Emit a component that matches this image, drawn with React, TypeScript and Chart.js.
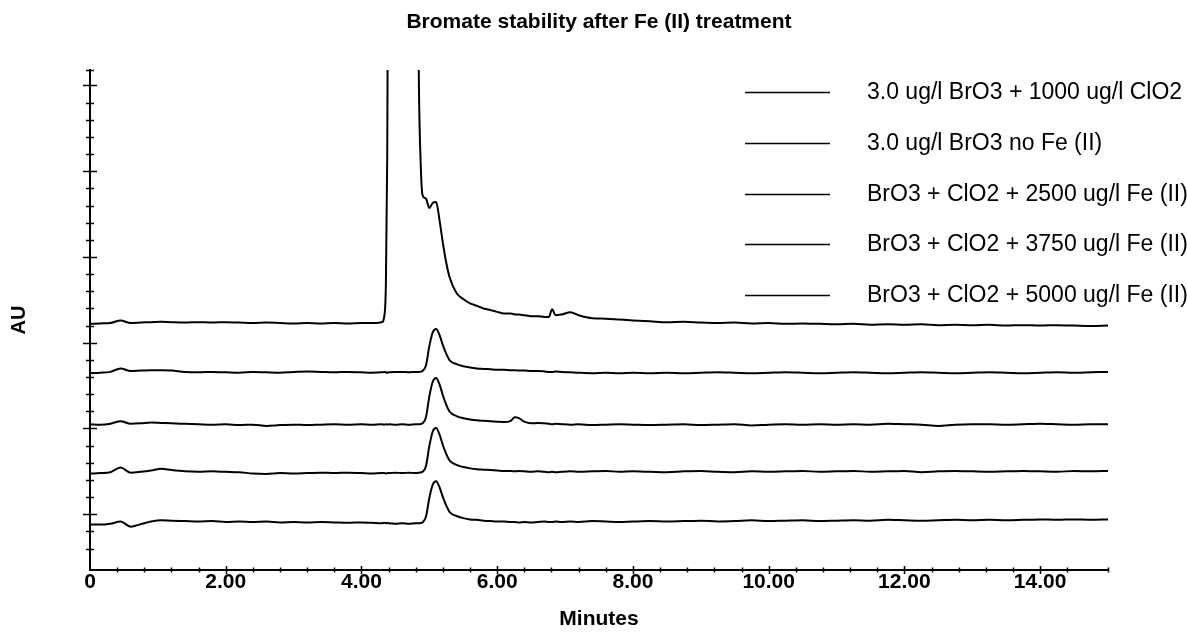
import React, { useEffect, useRef } from "react";
import { Chart, registerables } from "chart.js";

Chart.register(...registerables);

const FONT = "'Liberation Sans', Arial, Helvetica, sans-serif";

const CHART_TITLE = "Bromate stability after Fe (II) treatment";
const X_TITLE = "Minutes";
const Y_TITLE = "AU";

const X_TICK_VALUES = [0, 2, 4, 6, 8, 10, 12, 14];
const X_TICK_LABELS = ["0", "2.00", "4.00", "6.00", "8.00", "10.00", "12.00", "14.00"];

const SERIES_LABELS = [
  "3.0 ug/l BrO3 + 1000 ug/l ClO2",
  "3.0 ug/l BrO3 no Fe (II)",
  "BrO3 + ClO2 + 2500 ug/l Fe (II)",
  "BrO3 + ClO2 + 3750 ug/l Fe (II)",
  "BrO3 + ClO2 + 5000 ug/l Fe (II)",
];

// retention time (minutes)
const TIMES = [
  0, 0.15, 0.3, 0.45, 0.6, 0.75, 0.9, 1.05, 1.2, 1.4,
  1.6, 1.8, 2.0, 2.2, 2.4, 2.6, 2.8, 3.0, 3.2, 3.4,
  3.6, 3.8, 4.0, 4.15, 4.3, 4.34, 4.36, 4.38, 4.4, 4.5,
  4.6, 4.7, 4.8, 4.85, 4.88, 4.9, 4.95, 5.0, 5.05, 5.1,
  5.15, 5.2, 5.25, 5.3, 5.4, 5.5, 5.6, 5.7, 5.8, 5.9,
  6.0, 6.1, 6.2, 6.26, 6.32, 6.4, 6.5, 6.6, 6.7, 6.76,
  6.81, 6.86, 6.95, 7.08, 7.2, 7.4, 7.6, 7.8, 8.0, 8.25,
  8.5, 8.75, 9.0, 9.25, 9.5, 9.75, 10.0, 10.25, 10.5, 10.75,
  11.0, 11.25, 11.5, 11.75, 12.0, 12.25, 12.5, 12.75, 13.0, 13.25,
  13.5, 13.75, 14.0, 14.25, 14.5, 14.75, 15.0,
];

// detector response (offset traces, arbitrary AU units)
const CLO2_1000 = [
  22.2, 22.25, 22.3, 22.6, 22.3, 22.35, 22.4, 22.45, 22.4, 22.35,
  22.4, 22.35, 22.4, 22.35, 22.3, 22.35, 22.3, 22.25, 22.3, 22.25,
  22.3, 22.25, 22.3, 22.3, 22.4, 23.3, 27.0, 42.0, 80.0, 90.0,
  90.0, 90.0, 80.0, 47.9, 39.3, 37.2, 36.8, 35.7, 36.3, 36.4,
  34.3, 31.6, 29.3, 27.6, 25.8, 25.1, 24.6, 24.3, 24.0, 23.8,
  23.6, 23.4, 23.4, 23.3, 23.3, 23.2, 23.1, 23.1, 23.0, 23.0,
  23.9, 23.2, 23.3, 23.55, 23.2, 22.85, 22.8, 22.7, 22.6, 22.5,
  22.4, 22.45, 22.35, 22.3, 22.35, 22.25, 22.3, 22.2, 22.25, 22.2,
  22.15, 22.2, 22.1, 22.15, 22.1, 22.15, 22.05, 22.1, 22.05, 22.1,
  22.0, 22.05, 22.0, 22.05, 22.0, 21.95, 22.0,
];

const NO_FE = [
  16.45, 16.5, 16.6, 17.0, 16.7, 16.75, 16.8, 16.8, 16.75, 16.6,
  16.55, 16.6, 16.55, 16.5, 16.6, 16.55, 16.5, 16.6, 16.65, 16.6,
  16.55, 16.6, 16.55, 16.5, 16.55, 16.6, 16.55, 16.5, 16.55, 16.6,
  16.6, 16.55, 16.6, 16.6, 16.65, 16.7, 17.35, 19.6, 21.2, 21.6,
  20.9, 19.7, 18.7, 17.95, 17.5, 17.25, 17.1, 17.0, 16.95, 16.9,
  16.85, 16.85, 16.8, 16.8, 16.75, 16.75, 16.7, 16.7, 16.65, 16.6,
  16.6, 16.65, 16.6, 16.55, 16.5, 16.45, 16.5, 16.45, 16.5, 16.45,
  16.5, 16.45, 16.5, 16.55, 16.5, 16.45, 16.5, 16.55, 16.5, 16.45,
  16.5, 16.55, 16.5, 16.45, 16.5, 16.55, 16.5, 16.45, 16.5, 16.55,
  16.5, 16.45, 16.5, 16.55, 16.5, 16.55, 16.6,
];

const FE_2500 = [
  10.5, 10.45, 10.55, 10.85, 10.55, 10.6, 10.7, 10.65, 10.6, 10.55,
  10.5, 10.45, 10.5, 10.4, 10.45, 10.3, 10.4, 10.45, 10.4, 10.45,
  10.5, 10.45, 10.5, 10.45, 10.5, 10.45, 10.5, 10.45, 10.5, 10.45,
  10.5, 10.45, 10.5, 10.5, 10.55, 10.6, 11.3, 13.75, 15.45, 15.9,
  15.15, 13.85, 12.75, 11.95, 11.45, 11.2, 11.05, 10.95, 10.9, 10.85,
  10.8, 10.75, 10.9, 11.3, 11.2, 10.8, 10.6, 10.65, 10.6, 10.55,
  10.5, 10.55, 10.5, 10.45, 10.5, 10.4, 10.45, 10.5, 10.45, 10.4,
  10.45, 10.5, 10.4, 10.45, 10.5, 10.35, 10.45, 10.5, 10.45, 10.5,
  10.45, 10.5, 10.45, 10.55, 10.5, 10.45, 10.3, 10.45, 10.5, 10.5,
  10.45, 10.5, 10.55, 10.5, 10.45, 10.5, 10.5,
];

const FE_3750 = [
  4.75, 4.8, 4.9, 5.45, 4.85, 4.95, 5.1, 5.3, 5.15, 5.0,
  4.95, 5.0, 4.95, 4.9, 4.75, 4.7, 4.8, 4.75, 4.8, 4.85,
  4.8, 4.85, 4.8, 4.75, 4.8, 4.8, 4.75, 4.8, 4.8, 4.85,
  4.8, 4.85, 4.8, 4.85, 4.9, 4.95, 5.6, 7.95, 9.65, 10.05,
  9.3, 8.05, 7.0, 6.25, 5.75, 5.5, 5.35, 5.25, 5.2, 5.15,
  5.1, 5.05, 5.05, 5.0, 5.05, 5.0, 4.95, 5.0, 4.95, 4.9,
  4.95, 4.9, 4.95, 5.0, 4.95, 5.0, 5.05, 4.95, 5.0, 4.95,
  4.9, 5.0, 5.05, 4.95, 4.9, 5.0, 4.95, 5.0, 5.05, 4.95,
  5.0, 5.05, 4.95, 5.0, 5.05, 4.9, 5.0, 5.05, 5.0, 4.95,
  5.0, 5.05, 5.0, 4.95, 5.05, 5.0, 5.05,
];

const FE_5000 = [
  -1.2, -1.2, -1.1, -0.85, -1.45, -1.15, -0.85, -0.7, -0.75, -0.8,
  -0.85, -0.8, -0.9, -0.85, -0.9, -0.85, -0.95, -0.9, -0.95, -0.9,
  -0.95, -1.0, -0.95, -1.0, -1.05, -1.0, -1.05, -1.0, -1.05, -1.1,
  -1.05, -1.1, -1.05, -1.05, -1.0, -0.95, -0.3, 1.9, 3.45, 3.85,
  3.15, 2.0, 1.0, 0.25, -0.2, -0.45, -0.6, -0.65, -0.75, -0.8,
  -0.85, -0.85, -0.9, -0.9, -0.95, -0.9, -0.95, -0.9, -0.85, -0.9,
  -0.9, -0.85, -0.9, -0.85, -0.9, -0.8, -0.85, -0.9, -0.85, -0.8,
  -0.85, -0.8, -0.75, -0.85, -0.8, -0.7, -0.8, -0.75, -0.7, -0.8,
  -0.75, -0.7, -0.75, -0.65, -0.7, -0.75, -0.7, -0.65, -0.7, -0.65,
  -0.7, -0.65, -0.6, -0.65, -0.6, -0.65, -0.6,
];

const SERIES = [CLO2_1000, NO_FE, FE_2500, FE_3750, FE_5000];

const Y_MIN = -6.5;
const Y_MAX = 51.8;

const crossTicks = {
  id: "crossTicks",
  afterDraw(chart: any) {
    const { ctx, chartArea } = chart;
    const xs = chart.scales.x;
    const ys = chart.scales.y;
    ctx.save();
    ctx.strokeStyle = "#000";
    ctx.lineWidth = 1.5;
    ys.ticks.forEach((t: any) => {
      if (t.value <= Y_MIN + 1e-6) return;
      const y = Math.round(ys.getPixelForValue(t.value)) + 0.5;
      const major = Math.abs(t.value / 10 - Math.round(t.value / 10)) < 1e-6;
      const h = major ? 7 : 4;
      ctx.beginPath();
      ctx.moveTo(chartArea.left - h, y);
      ctx.lineTo(chartArea.left + h, y);
      ctx.stroke();
    });
    xs.ticks.forEach((t: any) => {
      if (t.value <= 1e-6) return;
      const x = Math.round(xs.getPixelForValue(t.value)) + 0.5;
      const major = Math.abs(t.value / 2 - Math.round(t.value / 2)) < 1e-6;
      const h = major ? 4 : 2.5;
      ctx.beginPath();
      ctx.moveTo(x, chartArea.bottom - h);
      ctx.lineTo(x, chartArea.bottom + h);
      ctx.stroke();
    });
    ctx.restore();
  },
};

const sideLegend = {
  id: "sideLegend",
  afterDraw(chart: any) {
    const { ctx, chartArea } = chart;
    ctx.save();
    ctx.font = `23px ${FONT}`;
    ctx.fillStyle = "#000";
    ctx.textBaseline = "middle";
    ctx.textAlign = "left";
    chart.data.datasets.forEach((ds: any, i: number) => {
      const y = Math.round(chartArea.top + 22 + i * 50.75) + 0.5;
      ctx.strokeStyle = ds.borderColor;
      ctx.lineWidth = 1.5;
      ctx.beginPath();
      ctx.moveTo(chartArea.right - 363, y);
      ctx.lineTo(chartArea.right - 278, y);
      ctx.stroke();
      ctx.fillText(ds.label, chartArea.right - 241, y);
    });
    ctx.restore();
  },
};

export default function App() {
  const ref = useRef<HTMLCanvasElement>(null);

  useEffect(() => {
    document.body.style.margin = "0";
    const canvas = ref.current;
    if (!canvas) return;
    Chart.defaults.font.family = FONT;
    const datasets = SERIES.map((vals, i) => ({
      label: SERIES_LABELS[i],
      data: TIMES.map((t, j) => ({ x: t, y: vals[j] })),
      borderColor: "#000",
      backgroundColor: "#000",
      borderWidth: 2,
      pointRadius: 0,
      fill: false,
      cubicInterpolationMode: "monotone" as const,
    }));
    const chart = new Chart(canvas, {
      type: "line",
      data: { datasets },
      options: {
        animation: false,
        responsive: false,
        maintainAspectRatio: false,
        events: [],
        layout: { padding: { left: 0, right: 79, top: 0, bottom: 0 } },
        plugins: {
          legend: { display: false },
          tooltip: { enabled: false },
          title: {
            display: true,
            text: CHART_TITLE,
            fullSize: false,
            color: "#000",
            font: { size: 21, weight: "bold", family: FONT },
            padding: { top: 9.4, bottom: 35.4 },
          },
        },
        scales: {
          x: {
            type: "linear",
            position: "bottom",
            min: 0,
            max: 15,
            afterFit: (s: any) => {
              s.height = 62;
            },
            grid: { display: false, drawTicks: false },
            border: { display: true, color: "#000", width: 2 },
            ticks: {
              stepSize: 0.4,
              autoSkip: false,
              maxRotation: 0,
              padding: 0,
              color: "#000",
              font: { size: 21, weight: "bold", family: FONT },
              callback: (v: any) => {
                const idx = X_TICK_VALUES.findIndex((m) => Math.abs(m - Number(v)) < 1e-6);
                return idx >= 0 ? X_TICK_LABELS[idx] : "";
              },
            },
            title: {
              display: true,
              text: X_TITLE,
              color: "#000",
              font: { size: 21, weight: "bold", family: FONT },
              padding: 0,
            },
          },
          y: {
            type: "linear",
            min: Y_MIN,
            max: Y_MAX,
            afterFit: (s: any) => {
              s.width = 90;
            },
            grid: { display: false, drawTicks: false },
            border: { display: true, color: "#000", width: 2 },
            ticks: { display: false, stepSize: 2 },
            title: {
              display: true,
              text: Y_TITLE,
              color: "#000",
              font: { size: 20, weight: "bold", family: FONT },
              padding: { top: 7, bottom: 0 },
            },
          },
        },
      },
      plugins: [crossTicks, sideLegend],
    });
    return () => chart.destroy();
  }, []);

  return (
    <div style={{ position: "fixed", left: 0, top: 0, width: 1187, height: 632, background: "#fff" }}>
      <canvas ref={ref} width={1187} height={632} style={{ width: 1187, height: 632, display: "block" }} />
    </div>
  );
}
